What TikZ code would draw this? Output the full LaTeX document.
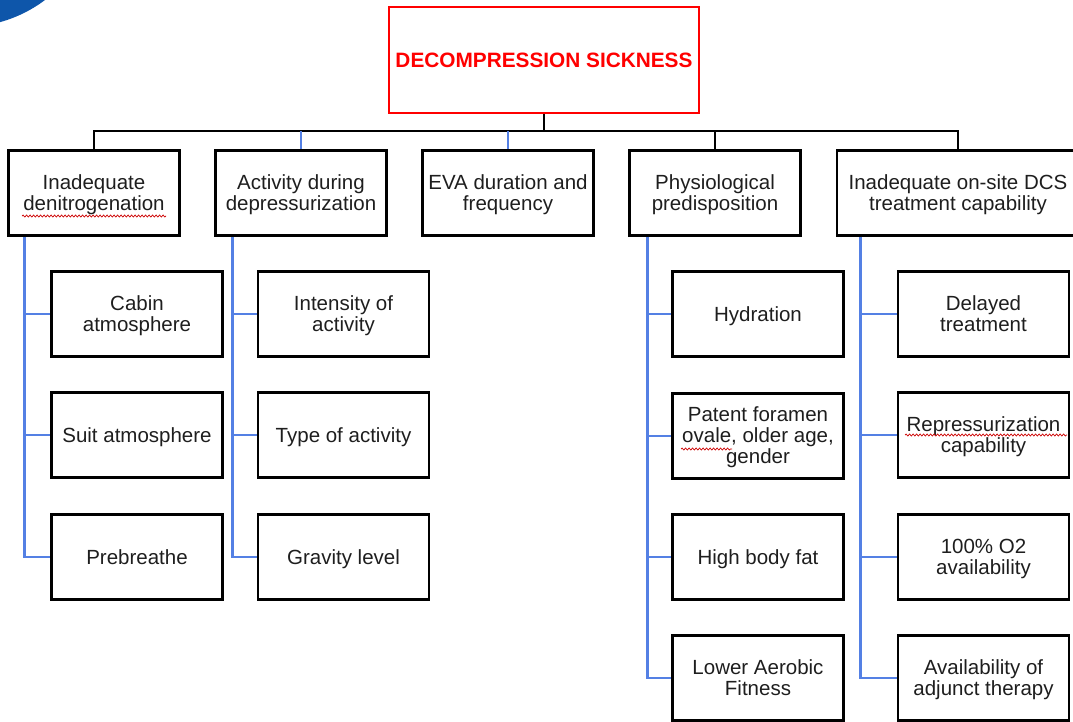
\documentclass[tikz,border=0pt]{standalone}
\usepackage{fontspec}
\setmainfont{Liberation Sans}
\usetikzlibrary{decorations.pathmorphing}
\definecolor{linkblue}{RGB}{84,128,228}
\definecolor{discblue}{RGB}{14,86,170}
\definecolor{txt}{RGB}{30,30,30}
\definecolor{redbox}{RGB}{255,0,0}
\tikzset{
  box/.style={draw=black, line width=2.7pt, minimum width=171pt, minimum height=85pt,
    align=center, inner sep=0pt, text=txt, font=\fontsize{20.5}{21}\selectfont},
  one/.style={box, execute at begin node={\rule{0pt}{20.7pt}}, execute at end node={\rule[-6.3pt]{0pt}{0pt}}},
  multi/.style={box, text depth=1pt},
  titlebox/.style={draw=redbox, line width=2.6pt, minimum width=310pt, minimum height=106pt,
    inner sep=0pt, text=redbox, font=\fontsize{20.8}{21}\selectfont\bfseries},
  bus/.style={draw=black, line width=2.7pt},
  tree/.style={draw=linkblue, line width=2.7pt},
  squig/.style={draw=red!80!black, line width=0.7pt, decorate,
    decoration={snake, amplitude=1pt, segment length=3.5pt}}
}
\begin{document}
\begin{tikzpicture}[x=1pt,y=-1pt]
\useasboundingbox (0,0) rectangle (1073,721);
\clip (0,0) rectangle (1073,721);
% blue disc in the corner
\fill[discblue] (-36,-108) circle (135);
% title
\node[titlebox] (top) at (544,60) {DECOMPRESSION SICKNESS};
\coordinate (bus) at (0,131);
% level 1
\node[multi] (b1) at (94,193) {Inadequate\\denitrogenation};
\node[multi] (b2) at (301,193) {Activity during\\depressurization};
\node[multi] (b3) at (508,193) {EVA duration and\\frequency};
\node[multi] (b4) at (715,193) {Physiological\\predisposition};
\node[multi, minimum width=242pt] (b5) at (958,193) {Inadequate on-site DCS\\treatment capability};
% level 2, column 1
\node[multi] (c11) at (137,314) {Cabin\\atmosphere};
\node[one] (c12) at (137,435) {Suit atmosphere};
\node[one] (c13) at (137,557) {Prebreathe};
% column 2
\node[multi] (c21) at (343.5,314) {Intensity of\\activity};
\node[one] (c22) at (343.5,435) {Type of activity};
\node[one] (c23) at (343.5,557) {Gravity level};
% column 4
\node[one] (c41) at (758,314) {Hydration};
\node[multi] (c42) at (758,436) {Patent foramen\\ovale, older age,\\gender};
\node[one] (c43) at (758,557) {High body fat};
\node[multi] (c44) at (758,678) {Lower Aerobic\\Fitness};
% column 5
\node[multi] (c51) at (983.5,314) {Delayed\\treatment};
\node[multi] (c52) at (983.5,435) {Repressurization\\capability};
\node[multi] (c53) at (983.5,557) {100\% O2\\availability};
\node[multi] (c54) at (983.5,678) {Availability of\\adjunct therapy};
% bus connectors
\draw[bus] (top.south) -- (top.south |- bus) -| (b1.north);
\draw[bus] (top.south |- bus) -| (b4.north);
\draw[bus] (top.south |- bus) -| (b5.north);
\draw[tree] (b2.north |- bus) -- (b2.north);
\draw[tree] (b3.north |- bus) -- (b3.north);
% trees
\coordinate (v1) at ([xshift=17pt]b1.south west);
\coordinate (v2) at ([xshift=18pt]b2.south west);
\coordinate (v4) at ([xshift=19pt]b4.south west);
\coordinate (v5) at ([xshift=25pt]b5.south west);
\draw[tree] (v1) |- (c13.west);
\draw[tree] (v1 |- c11.west) -- (c11.west);
\draw[tree] (v1 |- c12.west) -- (c12.west);
\draw[tree] (v2) |- (c23.west);
\draw[tree] (v2 |- c21.west) -- (c21.west);
\draw[tree] (v2 |- c22.west) -- (c22.west);
\draw[tree] (v4) |- (c44.west);
\draw[tree] (v4 |- c41.west) -- (c41.west);
\draw[tree] (v4 |- c42.west) -- (c42.west);
\draw[tree] (v4 |- c43.west) -- (c43.west);
\draw[tree] (v5) |- (c54.west);
\draw[tree] (v5 |- c51.west) -- (c51.west);
\draw[tree] (v5 |- c52.west) -- (c52.west);
\draw[tree] (v5 |- c53.west) -- (c53.west);
% spell-check squiggles
\coordinate (s1a) at (22,216); \coordinate (s1b) at (166,216);
\coordinate (s2a) at (681,449); \coordinate (s2b) at (732,449);
\coordinate (s3a) at (905,435); \coordinate (s3b) at (1067,435);
\draw[squig] (s1a) -- (s1b);
\draw[squig] (s2a) -- (s2b);
\draw[squig] (s3a) -- (s3b);
\end{tikzpicture}
\end{document}
